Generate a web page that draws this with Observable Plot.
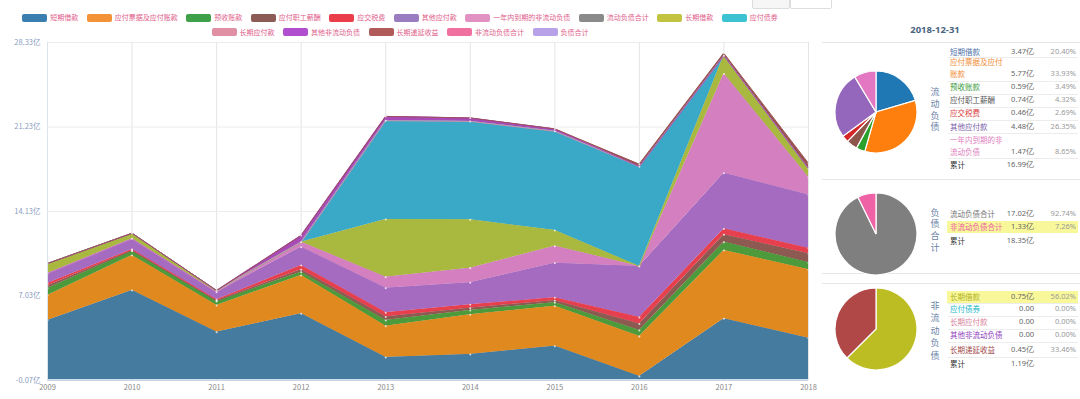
<!DOCTYPE html>
<html><head><meta charset="utf-8">
<script src="https://cdn.jsdelivr.net/npm/d3@7"></script>
<script src="https://cdn.jsdelivr.net/npm/@observablehq/plot@0.6"></script>
<style>
body{margin:0;background:#fff;font-family:"Noto Sans CJK SC","Noto Sans",sans-serif;}
#root{position:relative;width:1080px;height:399px;overflow:hidden;background:#fff;}
.abs{position:absolute;white-space:nowrap;line-height:1;}
</style></head><body><div id="root"></div>
<script>
// ---------- data ----------
const years = [2009, 2010, 2011, 2012, 2013, 2014, 2015, 2016, 2017, 2018];
const seriesNames = ["短期借款","应付票据及应付账款","预收账款","应付职工薪酬","应交税费","其他应付款","一年内到期的非流动负债","长期借款","应付债券","长期应付款","其他非流动负债","长期递延收益"];
const 短期借款 = [4.97, 7.49, 3.99, 5.53, 1.86, 2.12, 2.81, 0.27, 5.11, 3.47];
const 应付票据及应付账款 = [2.10, 2.94, 2.24, 3.22, 2.63, 3.33, 3.36, 3.36, 5.74, 5.77];
const 预收账款 = [0.59, 0.36, 0.34, 0.28, 0.48, 0.36, 0.29, 0.50, 0.70, 0.59];
const 应付职工薪酬 = [0.20, 0.06, 0.06, 0.20, 0.30, 0.20, 0.18, 0.55, 0.62, 0.74];
const 应交税费 = [0.22, 0.08, 0.08, 0.36, 0.35, 0.28, 0.24, 0.55, 0.50, 0.46];
const 其他应付款 = [0.84, 0.90, 0.64, 1.54, 2.06, 1.85, 2.90, 4.28, 4.67, 4.48];
const 一年内到期的非流动负债 = [0, 0, 0, 0.41, 0.93, 1.22, 1.43, 0, 8.34, 1.47];
const 长期借款 = [0.84, 0.47, 0.14, 0, 4.84, 4.07, 1.32, 0, 1.54, 0.75];
const 应付债券 = [0, 0, 0, 0, 8.31, 8.27, 8.34, 8.39, 0, 0];
const 长期应付款 = [0, 0, 0, 0, 0, 0, 0, 0, 0, 0];
const 其他非流动负债 = [0, 0, 0, 0.57, 0.36, 0.29, 0.20, 0, 0, 0];
const 长期递延收益 = [0, 0, 0, 0, 0, 0, 0, 0.20, 0.20, 0.45];
const seriesValues = [短期借款, 应付票据及应付账款, 预收账款, 应付职工薪酬, 应交税费, 其他应付款, 一年内到期的非流动负债, 长期借款, 应付债券, 长期应付款, 其他非流动负债, 长期递延收益];
const areaColors = ["#457b9e","#e0891f","#4c9a3b","#8d5a52","#e6404e","#a46bc0","#d47fbf","#a9b83f","#3aa9c7","#e08fa5","#a84ab8","#9a5050"];
const yTicks = [-0.07, 7.03, 14.13, 21.23, 28.33];

const legendRow1 = ["短期借款","应付票据及应付账款","预收账款","应付职工薪酬","应交税费","其他应付款","一年内到期的非流动负债","流动负债合计","长期借款","应付债券"];
const legendRow1Colors = ["#3a7fb0","#f39237","#3fa04a","#8c5b55","#ea3f4a","#9a7cc0","#e291c3","#8a8a8a","#c3c342","#3dc2d2"];
const legendRow2 = ["长期应付款","其他非流动负债","长期递延收益","非流动负债合计","负债合计"];
const legendRow2Colors = ["#e08fa5","#b050d0","#b05a5a","#f070a0","#b9a2e8"];

// right panel
const panelDate = "2018-12-31";
const p1Names = ["短期借款","应付票据及应付账款","预收账款","应付职工薪酬","应交税费","其他应付款","一年内到期的非流动负债"];
const p1Values = [3.47, 5.77, 0.59, 0.74, 0.46, 4.48, 1.47];
const p1ValueLabels = ["3.47亿","5.77亿","0.59亿","0.74亿","0.46亿","4.48亿","1.47亿"];
const p1PctLabels = ["20.40%","33.93%","3.49%","4.32%","2.69%","26.35%","8.65%"];
const p1Total = "16.99亿";
const p1Colors = ["#1f77b4","#ff7f0e","#2ca02c","#8c564b","#d62728","#9467bd","#e377c2"];
const p1TextColors = ["#4a6fa8","#f08a30","#3a9a3a","#555555","#d94040","#7a5aa8","#e07fc0"];
const p2Names = ["流动负债合计","非流动负债合计"];
const p2Values = [17.02, 1.33];
const p2ValueLabels = ["17.02亿","1.33亿"];
const p2PctLabels = ["92.74%","7.26%"];
const p2Total = "18.35亿";
const p2Colors = ["#7f7f7f","#f062a6"];
const p2TextColors = ["#777777","#f062a6"];
const p3Names = ["长期借款","应付债券","长期应付款","其他非流动负债","长期递延收益"];
const p3Values = [0.75, 0, 0, 0, 0.45];
const p3ValueLabels = ["0.75亿","0.00","0.00","0.00","0.45亿"];
const p3PctLabels = ["56.02%","0.00%","0.00%","0.00%","33.46%"];
const p3Total = "1.19亿";
const p3Colors = ["#bcbd22","#17becf","#e08fa5","#b050d0","#b04848"];
const p3TextColors = ["#b0b020","#20b8c8","#d87f9a","#9040c0","#a04848"];

// ---------- build ----------
const root = document.getElementById("root");
const data = [];
seriesNames.forEach((s, k) => years.forEach((y, i) => data.push({year: y, name: s, value: seriesValues[k][i]})));

const chart = Plot.plot({
  width: 820, height: 399,
  marginTop: 42, marginBottom: 19, marginLeft: 47, marginRight: 12,
  style: {fontFamily: "'Noto Sans CJK SC','Noto Sans',sans-serif", background: "transparent"},
  x: {type: "linear", domain: [2009, 2018], label: null},
  y: {domain: [-0.07, 28.33], label: null},
  color: {domain: seriesNames, range: areaColors},
  marks: [
    Plot.gridX(years, {stroke: "#e4e4e4", strokeOpacity: 1}),
    Plot.gridY(yTicks, {stroke: "#ececec", strokeOpacity: 1}),
    Plot.areaY(data, Plot.stackY({x: "year", y: "value", fill: "name", z: "name", order: seriesNames})),
    Plot.lineY(data, Plot.stackY2({x: "year", y: "value", z: "name", stroke: "name", order: seriesNames, strokeWidth: 0.9})),
    Plot.dot(data, Plot.stackY2({x: "year", y: "value", z: "name", order: seriesNames, r: 1, fill: "#fff", fillOpacity: 0.75, filter: d => d.value > 0})),
    Plot.ruleY([-0.07], {stroke: "#c9d6e8"}),
    Plot.ruleX([2009], {stroke: "#dde3ea"}),
    Plot.axisY(yTicks, {tickSize: 0, tickPadding: 7, fontSize: 7.5, fill: "#8a9cc0", tickFormat: d => d.toFixed(2) + "亿"}),
    Plot.axisX(years, {tickSize: 0, tickPadding: 4, fontSize: 7.5, fill: "#888", tickFormat: d => String(d)})
  ]
});
chart.style.position = "absolute"; chart.style.left = "0px"; chart.style.top = "0px";
root.appendChild(chart);

function el(tag, css, text) {
  const e = document.createElement(tag);
  e.className = "abs";
  Object.assign(e.style, css);
  if (text != null) e.textContent = text;
  root.appendChild(e);
  return e;
}

// legend
function legendRow(names, colors, top) {
  const row = el("div", {left: "0px", width: "800px", top: top + "px", height: "10px", display: "flex", justifyContent: "center", alignItems: "center", gap: "8.5px"});
  names.forEach((n, i) => {
    const item = document.createElement("div");
    Object.assign(item.style, {display: "flex", alignItems: "center", gap: "3px"});
    const sw = document.createElement("div");
    Object.assign(sw.style, {width: "25px", height: "8px", background: colors[i], borderRadius: "2px"});
    const t = document.createElement("span");
    Object.assign(t.style, {fontSize: "7px", color: "#e0608a", lineHeight: "1"});
    t.textContent = n;
    item.appendChild(sw); item.appendChild(t);
    row.appendChild(item);
  });
}
legendRow(legendRow1, legendRow1Colors, 12.5);
legendRow(legendRow2, legendRow2Colors, 27);

// top-right button fragments
el("div", {left: "752px", top: "-8px", width: "36px", height: "15px", border: "1px solid #ddd", borderRadius: "2px", background: "#f6f6f6"});
el("div", {left: "790px", top: "-8px", width: "40px", height: "15px", border: "1px solid #ddd", borderRadius: "2px", background: "#fff"});

// right panel
el("div", {left: "895px", width: "80px", top: "25px", textAlign: "center", fontSize: "9.5px", fontWeight: "bold", color: "#4a6480", fontFamily: "'Noto Sans','DejaVu Sans',sans-serif"}, panelDate);
[42, 179, 273, 283].forEach(y => el("div", {left: "822px", top: y + "px", width: "258px", height: "1px", background: "#e6e6e6"}));

function drawPie(cx, cy, r, values, colors) {
  const arcs = d3.pie().sort(null).value(d => d)(values);
  const arc = d3.arc().innerRadius(0).outerRadius(r);
  const svg = d3.create("svg").attr("width", 2 * r + 4).attr("height", 2 * r + 4)
    .style("position", "absolute").style("left", (cx - r - 2) + "px").style("top", (cy - r - 2) + "px");
  const g = svg.append("g").attr("transform", `translate(${r + 2},${r + 2})`);
  g.selectAll("path").data(arcs.filter(a => a.value > 0)).join("path")
    .attr("d", arc).attr("fill", d => colors[d.index]).attr("stroke", "#fff").attr("stroke-width", 1.2);
  root.appendChild(svg.node());
}
drawPie(876, 111.5, 41, p1Values, p1Colors);
drawPie(876, 233.5, 41, p2Values, p2Colors);
drawPie(876, 328.5, 41, p3Values, p3Colors);

function vertLabel(text, x, y0, step) {
  [...text].forEach((ch, i) => el("div", {left: (x - 4.5) + "px", top: (y0 + i * step - 4.5) + "px", fontSize: "9px", color: "#6a7fa8"}, ch));
}
vertLabel("流动负债", 935, 91.7, 11.7);
vertLabel("负债合计", 935, 212, 11.7);
vertLabel("非流动负债", 935, 305, 12.6);

function row(nameLines, color, y, val, pct, hl) {
  if (hl) el("div", {left: "947px", top: (y - 6) + "px", width: "131px", height: "12px", background: "#f8f89a"});
  const lineH = 11.7;
  nameLines.forEach((ln, i) => el("div", {left: "950px", top: (y - (nameLines.length - 1 - i) * lineH - 4) + "px", fontSize: "7.5px", color: color}, ln));
  if (val != null) el("div", {left: "995px", width: "39px", textAlign: "right", top: (y - 4) + "px", fontSize: "7.5px", color: "#666", fontFamily: "'Noto Sans','DejaVu Sans',sans-serif"}, val);
  if (pct != null) el("div", {left: "1040px", width: "36px", textAlign: "right", top: (y - 4) + "px", fontSize: "7.5px", color: "#9a9a9a", fontFamily: "'Noto Sans','DejaVu Sans',sans-serif"}, pct);
}
function sep(y) { el("div", {left: "948px", top: y + "px", width: "130px", height: "1px", background: "#ececec"}); }

// panel 1
const p1Lines = [["短期借款"],["应付票据及应付","账款"],["预收账款"],["应付职工薪酬"],["应交税费"],["其他应付款"],["一年内到期的非","流动负债"]];
const p1Y = [51.7, 74, 87.3, 100, 113.3, 126.7, 151.7];
p1Names.forEach((n, i) => { row(p1Lines[i], p1TextColors[i], p1Y[i], p1ValueLabels[i], p1PctLabels[i]); });
[57, 80.5, 93.7, 106.7, 120, 133.3, 158].forEach(sep);
row(["累计"], "#333", 165, null, null);
el("div", {left: "995px", width: "39px", textAlign: "right", top: "161px", fontSize: "7.5px", color: "#666", fontFamily: "'Noto Sans','DejaVu Sans',sans-serif"}, p1Total);

// panel 2
const p2Y = [214.3, 227.3];
p2Names.forEach((n, i) => row([n], p2TextColors[i], p2Y[i], p2ValueLabels[i], p2PctLabels[i], i === 1));
row(["累计"], "#333", 240.7, null, null);
el("div", {left: "995px", width: "39px", textAlign: "right", top: "236.7px", fontSize: "7.5px", color: "#666", fontFamily: "'Noto Sans','DejaVu Sans',sans-serif"}, p2Total);

// panel 3
const p3Y = [296.7, 309.3, 322.3, 335, 350];
p3Names.forEach((n, i) => row([n], p3TextColors[i], p3Y[i], p3ValueLabels[i], p3PctLabels[i], i === 0));
[302.7, 315.7, 328.7, 342, 357].forEach(sep);
row(["累计"], "#333", 364.3, null, null);
el("div", {left: "995px", width: "39px", textAlign: "right", top: "360.3px", fontSize: "7.5px", color: "#666", fontFamily: "'Noto Sans','DejaVu Sans',sans-serif"}, p3Total);
</script></body></html>
